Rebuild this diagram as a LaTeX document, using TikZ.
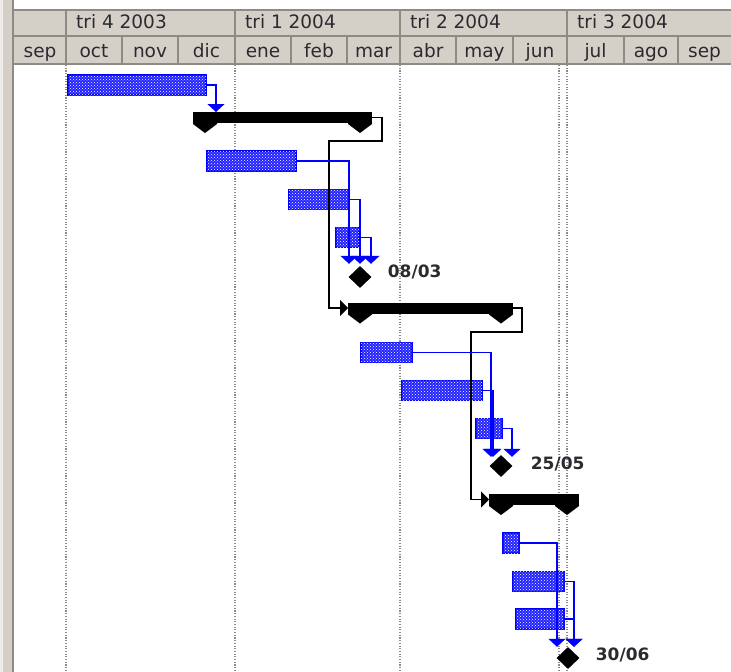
\documentclass[tikz,border=0pt]{standalone}
\usepackage{fontspec}
\setmainfont{DejaVu Sans}
\usetikzlibrary{arrows.meta,patterns,shapes.geometric,calc}
\definecolor{hdrbg}{HTML}{D4D0C8}
\definecolor{hdrline}{HTML}{8E8B85}
\definecolor{barblue}{HTML}{2222FF}
\definecolor{txt}{HTML}{2A2A30}
\definecolor{dotgray}{HTML}{8C8C8C}
\begin{document}
\begin{tikzpicture}[x=1pt,y=-1pt,
  hdrtxt/.style={font=\fontsize{18.5}{20}\selectfont, text=txt, inner sep=0pt},
  lbl/.style={font=\bfseries\fontsize{17}{19}\selectfont, text=txt, inner sep=0pt, anchor=base west},
  grid/.style={hdrline, line width=1.2pt},
  dotline/.style={dotgray, line width=1.1pt, dash pattern=on 1.1pt off 1.6pt},
  taskbar/.style={draw=blue, line width=1.2pt, fill=barblue,
    postaction={pattern=crosshatch dots, pattern color=white},
    inner sep=0pt, outer sep=0pt, anchor=north west},
  sumbar/.style={fill=black, inner sep=0pt, outer sep=0pt, anchor=north west, minimum height=11pt},
  mile/.style={diamond, fill=black, inner sep=0pt, minimum width=23pt, minimum height=22pt},
  bconn/.style={draw=blue, line width=1.4pt, -{Triangle[width=17pt,length=8pt]}},
  kconn/.style={draw=black, line width=1.3pt, -{Triangle[width=16pt,length=8pt]}}
]
\useasboundingbox (0,0) rectangle (731,672);
\fill[white] (0,0) rectangle (731,672);
% left strip
\fill[hdrbg] (0,0) rectangle (14,672);
\fill[white!60!hdrbg] (0,0) rectangle (3,672);
\draw[hdrline, line width=2pt] (13,0) -- (13,672);
% header
\fill[hdrbg] (14,10) rectangle (731,64);
\draw[grid] (14,10) -- (731,10);
\draw[grid] (14,36) -- (731,36);
\draw[grid] (14,64) -- (731,64);
\foreach \x in {66,235,400,567} \draw[grid] (\x,10) -- (\x,36);
\foreach \x in {66,122,178,235,291,347,400,456,513,567,624,678} \draw[grid] (\x,36) -- (\x,64);
% quarter labels
\node[hdrtxt, anchor=base west] (q1) at (76,28.5) {tri 4 2003};
\node[hdrtxt, anchor=base west] (q2) at (245,28.5) {tri 1 2004};
\node[hdrtxt, anchor=base west] (q3) at (410,28.5) {tri 2 2004};
\node[hdrtxt, anchor=base west] (q4) at (577,28.5) {tri 3 2004};
% month labels
\foreach \c/\m/\n in {40/sep/h1,94/oct/h2,150/nov/h3,206.5/dic/h4,263/ene/h5,319/feb/h6,373.5/mar/h7,428/abr/h8,484.5/may/h9,540/jun/h10,595.5/jul/h11,651/ago/h12,704.5/sep/h13}
  \node[hdrtxt, anchor=base] (\n) at (\c,57) {\m};
% dotted time lines
\foreach \x in {66,235,400,559,567} \draw[dotline] (\x,65) -- (\x,672);
% task bars
\node[taskbar, minimum width=138pt, minimum height=20pt] (t1) at (68,75) {};
\node[taskbar, minimum width=89pt, minimum height=20pt] (t3) at (207,151) {};
\node[taskbar, minimum width=60pt, minimum height=20pt] (t4) at (289,189.5) {};
\node[taskbar, minimum width=23pt, minimum height=20pt] (t5) at (336,227.5) {};
\node[taskbar, minimum width=51pt, minimum height=20pt] (t8) at (361,342.5) {};
\node[taskbar, minimum width=80pt, minimum height=20pt] (t9) at (402,380.5) {};
\node[taskbar, minimum width=26pt, minimum height=20pt] (t10) at (476,418.5) {};
\node[taskbar, minimum width=16pt, minimum height=20pt] (t11) at (503,533) {};
\node[taskbar, minimum width=51pt, minimum height=20pt] (t12) at (513,571.5) {};
\node[taskbar, minimum width=48pt, minimum height=20pt] (t13) at (516,609) {};
% summary bars
\node[sumbar, minimum width=179pt] (s1) at (193,112) {};
\node[sumbar, minimum width=165pt] (s2) at (348,302.5) {};
\node[sumbar, minimum width=90pt] (s3) at (489,494) {};
\foreach \s in {s1,s2,s3} {
  \fill (\s.south west) -- ++(0,1) -- ++(12,9) -- ++(12,-9) -- ++(0,-1) -- cycle;
  \fill (\s.south east) -- ++(0,1) -- ++(-12,9) -- ++(-12,-9) -- ++(0,-1) -- cycle;
}
% milestones
\node[mile] (ms1) at (360,277) {};
\node[mile] (ms2) at (501,466) {};
\node[mile] (ms3) at (568,658) {};
\node[lbl] (l1) at ($(ms1.east)+(16,0)$) {08/03};
\node[lbl] (l2) at ($(ms2.east)+(18,3.5)$) {25/05};
\node[lbl] (l3) at ($(ms3.east)+(16,2)$) {30/06};
% connectors
\draw[bconn] (t1.east) -| ([xshift=23pt]s1.north west);
\draw[kconn] (s1.east) -- ++(10,0) -- ++(0,23.5) -| ([xshift=-19pt]s2.west) -- (s2.west);
\draw[kconn] (s2.east) -- ++(9,0) -- ++(0,24) -| ([xshift=-18pt]s3.west) -- (s3.west);
\draw[bconn] (t3.east) -| ([xshift=-11pt,yshift=2pt]ms1.north);
\draw[bconn] (t4.east) -| ([yshift=2pt]ms1.north);
\draw[bconn] (t5.east) -| ([xshift=11pt,yshift=2pt]ms1.north);
\draw[bconn] (t8.east) -| ([xshift=-10pt,yshift=-2pt]ms2.north);
\draw[bconn] (t9.east) -| ([xshift=-8pt,yshift=-2pt]ms2.north);
\draw[bconn] (t10.east) -| ([xshift=11pt,yshift=-2pt]ms2.north);
\draw[bconn] (t11.east) -| ([xshift=-11pt]ms3.north);
\draw[bconn] (t12.east) -| ([xshift=6pt]ms3.north);
\draw[bconn] (t13.east) -| ([xshift=6pt]ms3.north);
\end{tikzpicture}
\end{document}
